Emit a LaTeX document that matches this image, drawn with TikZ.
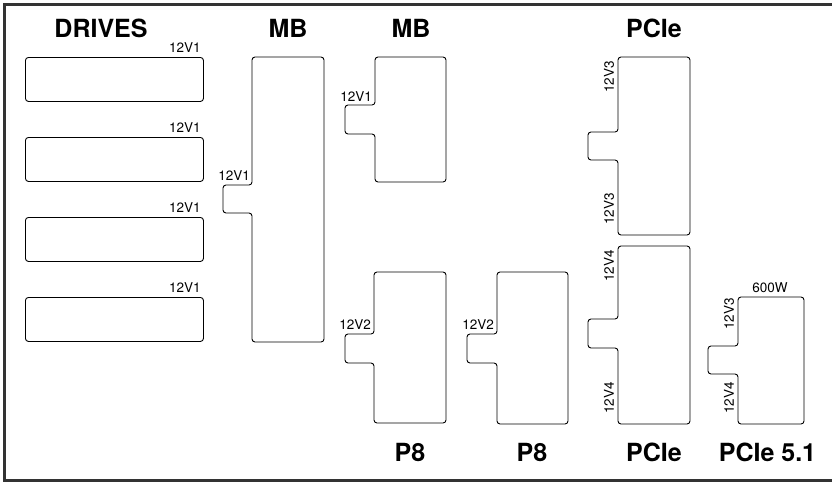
\documentclass[tikz,border=0pt]{standalone}
\usepackage{fontspec}
\setmainfont{TeX Gyre Heros}
\usetikzlibrary{positioning}
\colorlet{framegray}{black!80}
\tikzset{
  conn/.style={draw=black, line width=0.9pt, rounded corners=3pt},
  title/.style={font=\fontsize{25}{30}\selectfont\bfseries, inner sep=0pt},
  rail/.style={font=\fontsize{13.5}{16}\selectfont, inner sep=0pt},
  railv/.style={rail, rotate=90}
}
\begin{document}
\begin{tikzpicture}[x=1pt, y=-1pt]
\useasboundingbox (0,0) rectangle (832,482);

% outer frame (open to the right)
\draw[line width=3pt, framegray] (840,4.5) -- (4.5,4.5) -- (4.5,480.5) -- (840,480.5);

% drives column
\node[title] (drives) at (101,28.5) {DRIVES};
\foreach \i/\y in {1/57,2/137,3/217,4/297}{
  \node[conn, minimum width=178pt, minimum height=44pt, anchor=north west] (drive\i) at (25,\y) {};
  \node[rail, anchor=south east] (drive\i-rail) at ([xshift=-3pt,yshift=4pt]drive\i.north east) {12V1};
}

% MB 24 pin
\node[title] (mb24) at (288,28.5) {MB};
\draw[conn] (288,57) -- (324,57) -- (324,342) -- (252,342) -- (252,213) -- (223,213)
  -- (223,185) -- (252,185) -- (252,57) -- cycle;
\node[rail, anchor=south east] (mb24-rail) at (250,181) {12V1};

% MB 8 pin
\node[title] (mb8) at (411,28.5) {MB};
\draw[conn] (410,57) -- (446,57) -- (446,182) -- (375,182) -- (375,134) -- (345,134)
  -- (345,105) -- (375,105) -- (375,57) -- cycle;
\node[rail, anchor=south east] (mb8-rail) at (372,102) {12V1};

% P8 left
\draw[conn] (410,272) -- (446,272) -- (446,423) -- (374,423) -- (374,363) -- (345,363)
  -- (345,334) -- (374,334) -- (374,272) -- cycle;
\node[rail, anchor=south east] (p8a-rail) at (371,330) {12V2};
\node[title] (p8a) at (410,452.5) {P8};

% P8 right
\draw[conn] (532,272) -- (568,272) -- (568,424) -- (497,424) -- (497,363) -- (467,363)
  -- (467,334) -- (497,334) -- (497,272) -- cycle;
\node[rail, anchor=south east] (p8b-rail) at (494,330) {12V2};
\node[title] (p8b) at (532,452.5) {P8};

% PCIe top
\node[title] (pcie-top) at (654,28.5) {PCIe};
\draw[conn] (654,57) -- (690,57) -- (690,235) -- (618,235) -- (618,160) -- (588,160)
  -- (588,132) -- (618,132) -- (618,57) -- cycle;
\node[railv] (pcie-top-a) at (609,77) {12V3};
\node[railv] (pcie-top-b) at (609,209) {12V3};

% PCIe bottom
\draw[conn] (654,246) -- (690,246) -- (690,424) -- (618,424) -- (618,348) -- (588,348)
  -- (588,319) -- (618,319) -- (618,246) -- cycle;
\node[railv] (pcie-bot-a) at (609,266) {12V4};
\node[railv] (pcie-bot-b) at (609,398) {12V4};
\node[title] (pcie-bot) at (654,452.5) {PCIe};

% PCIe 5.1
\draw[conn] (771,297) -- (804,297) -- (804,424) -- (738,424) -- (738,374) -- (708,374)
  -- (708,346) -- (738,346) -- (738,297) -- cycle;
\node[rail] (pcie51-watt) at (770,288) {600W};
\node[railv] (pcie51-a) at (729,314) {12V3};
\node[railv] (pcie51-b) at (729,398) {12V4};
\node[title] (pcie51) at (767.5,452.5) {PCIe 5.1};
\end{tikzpicture}
\end{document}
